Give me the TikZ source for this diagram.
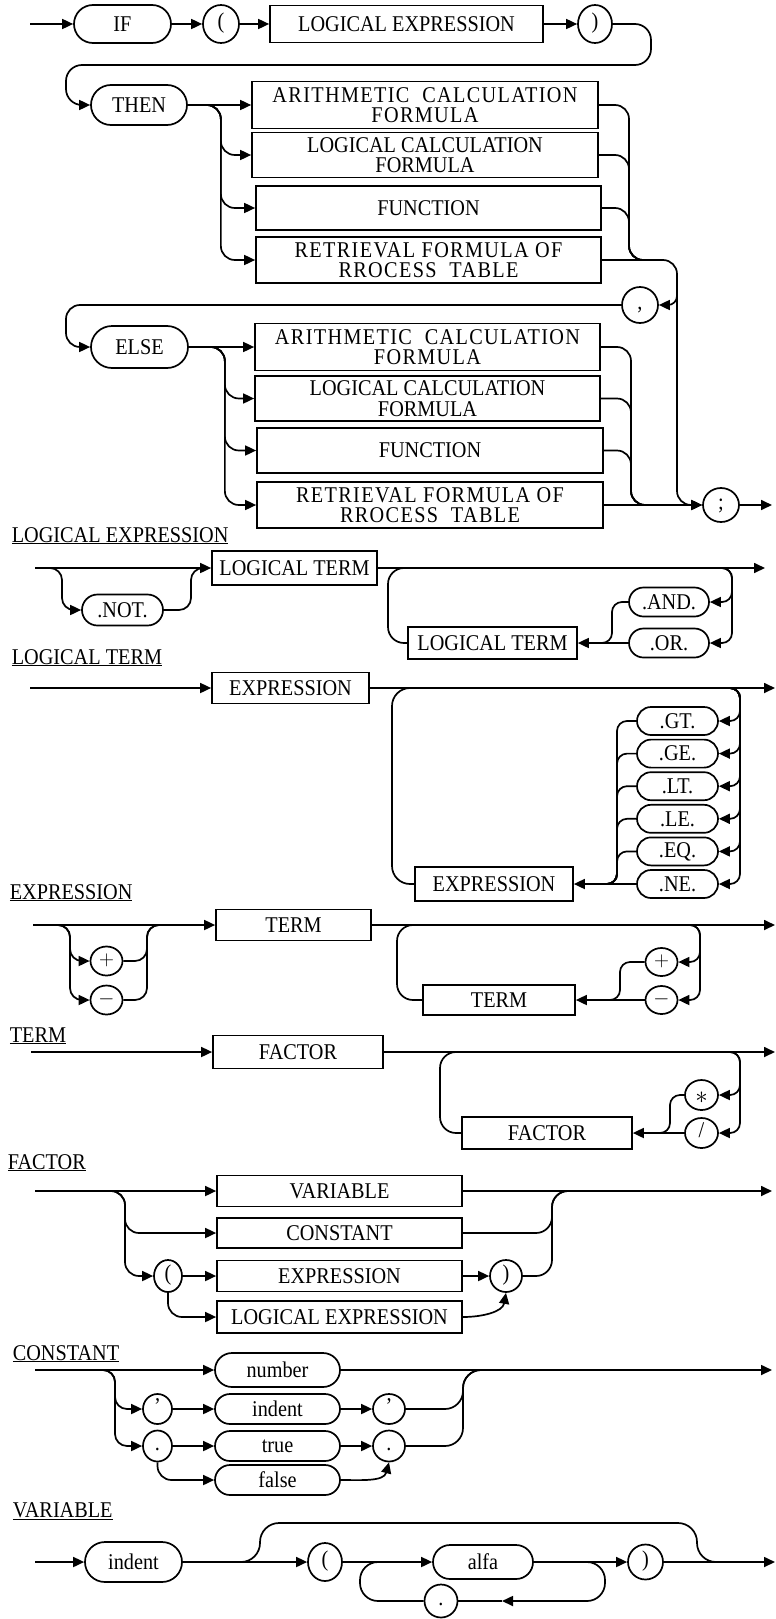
\documentclass[tikz,border=0pt]{standalone}
\usepackage{fontspec}
\setmainfont[FakeStretch=0.9]{Liberation Serif}
\newfontfamily\spacedfont[FakeStretch=0.9, LetterSpace=6]{Liberation Serif}
\usetikzlibrary{arrows.meta, shapes.misc, shapes.geometric, positioning}

\begin{document}
\begin{tikzpicture}[
		x=1pt, y=-1pt,
		>={Triangle[length=11pt,width=10pt]},
		line width=1.7pt,
		lbl/.style={font=\fontsize{22.5}{20.5}\selectfont},
		sz/.style 2 args={minimum width=#1pt, minimum height=#2pt},
		block/.style={draw, rectangle, align=center, inner sep=0pt, lbl},
		wideblock/.style={block, font=\spacedfont\fontsize{22.5}{20.5}\selectfont},
		oval/.style={draw, rounded rectangle, inner sep=0pt, lbl},
		sym/.style={draw, ellipse, inner sep=0pt, text height=13pt, text depth=4pt, lbl},
		head/.style={anchor=base west, inner sep=0pt, lbl},
		arr/.style={->},
		rc/.style={rounded corners=#1}, rc/.default=14pt,
	]
		\useasboundingbox (0,0) rectangle (776,1619);

		% IF ( logical expression )
		\coordinate (in0) at (30,24);
		\node[oval, sz={97}{38}] (if) at (122.5,24) {IF};
		\node[sym, sz={36}{38}] (lp1) at (221,24) {(};
		\node[block, sz={273}{37}] (lexp1) at (406.5,24) {LOGICAL EXPRESSION};
		\node[sym, sz={34}{38}] (rp1) at (595,24) {)};

		% THEN branch
		\node[oval, sz={96}{40}] (then) at (139,105) {THEN};
		\node[wideblock, sz={346}{47}] (arith1) at (425,105) {ARITHMETIC\ \ CALCULATION\\FORMULA};
		\node[block, sz={346}{45}] (logic1) at (425,155) {LOGICAL CALCULATION\\FORMULA};
		\node[block, sz={345}{44}] (func1) at (428.5,208) {FUNCTION};
		\node[wideblock, sz={345}{46}] (retr1) at (428.5,260) {RETRIEVAL FORMULA OF\\RROCESS\ \ TABLE};

		% ELSE branch
		\node[sym, sz={36}{36}] (comma) at (640,305) {,};
		\node[oval, sz={97}{42}] (else) at (139.5,347) {ELSE};
		\node[wideblock, sz={345}{47}] (arith2) at (427.5,347) {ARITHMETIC\ \ CALCULATION\\FORMULA};
		\node[block, sz={345}{45}] (logic2) at (427.5,398.5) {LOGICAL CALCULATION\\FORMULA};
		\node[block, sz={346}{45}] (func2) at (430,450.5) {FUNCTION};
		\node[wideblock, sz={346}{46}] (retr2) at (430,505) {RETRIEVAL FORMULA OF\\RROCESS\ \ TABLE};
		\node[sym, sz={36}{34}] (semi) at (721,505) {;};
		\coordinate (cj) at (677,283);
		\coordinate (out0) at (772,505);

		\draw[arr] (in0) -- (if);
		\draw[arr] (if) -- (lp1);
		\draw[arr] (lp1) -- (lexp1);
		\draw[arr] (lexp1) -- (rp1);
		\draw[arr, rc=16pt] (rp1) -- (651,24) -- (651,65) -- (66,65) |- (then.west);
		\draw[arr] (then) -- (arith1);
		\foreach \b in {logic1, func1, retr1}
			\draw[arr, rc] (then.east) -- ++(33,0) |- (\b.west);
		\foreach \b in {arith1, logic1, func1}
			\draw[rc] (\b.east) -| (629,260) -- (660,260);
		\draw[arr, rc] (retr1.east) -| (677,505) -- (semi.west);
		\draw[arr, rc=9pt] (cj) |- (comma.east);
		\draw[arr, rc] (comma) -- (66,305) |- (else.west);
		\draw[arr] (else) -- (arith2);
		\foreach \b in {logic2, func2, retr2}
			\draw[arr, rc] (else.east) -- ++(36,0) |- (\b.west);
		\foreach \b in {arith2, logic2, func2}
			\draw[rc] (\b.east) -| (631,505) -- (660,505);
		\draw[arr] (retr2) -- (semi);
		\draw[arr] (semi) -- (out0);

		% LOGICAL EXPRESSION
		\node[head] (h1) at (11,542) {\underline{LOGICAL EXPRESSION}};
		\coordinate (in1) at (35,568);
		\node[block, sz={165}{34}] (lt1) at (294.5,568) {LOGICAL TERM};
		\node[oval, sz={81}{31}] (not) at (122.5,610) {.NOT.};
		\node[oval, sz={80}{29}] (and) at (669,602) {.AND.};
		\node[oval, sz={80}{29}] (or) at (669,643) {.OR.};
		\node[block, sz={169}{32}] (lt2) at (492.5,643) {LOGICAL TERM};
		\coordinate (out1) at (765,568);

		\draw[arr] (in1) -- (lt1);
		\draw[arr, rc=12pt] (50,568) -- (62,568) |- (not.west);
		\draw[rc=12pt] (not.east) -| (191,568) -- (205,568);
		\draw[arr] (lt1) -- (out1);
		\draw[arr, rc=10pt] (716,568) -| (732,602) -- (and.east);
		\draw[arr, rc=10pt] (716,568) -| (732,643) -- (or.east);
		\draw[rc=10pt] (and.west) -| (612,643) -- (592,643);
		\draw[arr] (or) -- (lt2);
		\draw[rc=16pt] (lt2.west) -| (388,568) -- (420,568);

		% LOGICAL TERM
		\node[head] (h2) at (11,664) {\underline{LOGICAL TERM}};
		\coordinate (in2) at (30,688);
		\node[block, sz={157}{31}] (exp1) at (290.5,688) {EXPRESSION};
		\node[block, sz={158}{34}] (exp2) at (494,884) {EXPRESSION};
		\coordinate (out2) at (775,688);

		\draw[arr] (in2) -- (exp1);
		\draw[arr] (exp1) -- (out2);
		\foreach \o [count=\i from 0] in {GT,GE,LT,LE,EQ,NE} {
			\pgfmathsetmacro\yy{721+32.6*\i}
			\node[oval, sz={81}{28}] (op\i) at (677.5,\yy) {.\o.};
			\draw[arr, rc=10pt] (725,688) -| (740,\yy) -- (op\i.east);
			\ifnum\i<5
				\draw[rc=10pt] (op\i.west) -| (617,884) -- (598,884);
			\else
				\draw[arr] (op\i) -- (exp2);
			\fi
		}
		\draw[rc=18pt] (exp2.west) -| (392,688) -- (420,688);

		% EXPRESSION
		\node[head] (h3) at (9,899) {\underline{EXPRESSION}};
		\coordinate (in3) at (33,925);
		\node[block, sz={155}{31}] (term1) at (293.5,925) {TERM};
		\node[sym, sz={32}{29}] (pos1) at (106.5,961) {$+$};
		\node[sym, sz={32}{29}] (neg1) at (106.5,1000) {$-$};
		\node[sym, sz={32}{28}] (pos2) at (661.5,962) {$+$};
		\node[sym, sz={32}{28}] (neg2) at (661.5,1000) {$-$};
		\node[block, sz={152}{30}] (term2) at (499,1000) {TERM};
		\coordinate (out3) at (775,925);

		\draw[arr] (in3) -- (term1);
		\draw[arr, rc=12pt] (50,925) -- (70,925) |- (pos1.west);
		\draw[arr, rc=12pt] (50,925) -- (70,925) |- (neg1.west);
		\draw[rc=12pt] (pos1.east) -| (147,925) -- (167,925);
		\draw[rc=12pt] (neg1.east) -| (147,925) -- (167,925);
		\draw[arr] (term1) -- (out3);
		\draw[arr, rc=10pt] (685,925) -| (700,962) -- (pos2.east);
		\draw[arr, rc=10pt] (685,925) -| (700,1000) -- (neg2.east);
		\draw[rc=10pt] (pos2.west) -| (620,1000) -- (600,1000);
		\draw[arr] (neg2) -- (term2);
		\draw[rc=16pt] (term2.west) -| (397,925) -- (420,925);

		% TERM
		\node[head] (h4) at (9,1042) {\underline{TERM}};
		\coordinate (in4) at (31,1052);
		\node[block, sz={170}{33}] (fac1) at (298,1052) {FACTOR};
		\node[sym, sz={33}{30}, text height=17pt, text depth=0pt] (mul) at (701.5,1095) {\fontsize{34}{34}\selectfont$\ast$};
		\node[sym, sz={33}{30}] (div) at (701.5,1133) {/};
		\node[block, sz={170}{32}] (fac2) at (547,1133) {FACTOR};
		\coordinate (out4) at (775,1052);

		\draw[arr] (in4) -- (fac1);
		\draw[arr] (fac1) -- (out4);
		\draw[arr, rc=10pt] (725,1052) -| (740,1095) -- (mul.east);
		\draw[arr, rc=10pt] (725,1052) -| (740,1133) -- (div.east);
		\draw[rc=10pt] (mul.west) -| (670,1133) -- (650,1133);
		\draw[arr] (div) -- (fac2);
		\draw[rc=16pt] (fac2.west) -| (440,1052) -- (467,1052);

		% FACTOR
		\node[head] (h5) at (7,1169) {\underline{FACTOR}};
		\coordinate (in5) at (35,1191);
		\node[block, sz={245}{31}] (var1) at (339.5,1191) {VARIABLE};
		\node[block, sz={245}{30}] (con1) at (339.5,1233) {CONSTANT};
		\node[sym, sz={28}{32}] (lp3) at (168,1276) {(};
		\node[block, sz={245}{31}] (exp3) at (339.5,1276) {EXPRESSION};
		\node[block, sz={245}{32}] (lexp3) at (339.5,1317) {LOGICAL EXPRESSION};
		\node[sym, sz={32}{32}] (rp3) at (506,1276) {)};
		\coordinate (out5) at (772,1191);

		\draw[arr] (in5) -- (var1);
		\draw[arr] (var1) -- (out5);
		\draw[arr, rc] (100,1191) -- (125,1191) |- (con1.west);
		\draw[arr, rc] (100,1191) -- (125,1191) |- (lp3.west);
		\draw[arr] (lp3) -- (exp3);
		\draw[arr, rc] (lp3.south) |- (lexp3.west);
		\draw[arr] (exp3) -- (rp3);
		\draw[arr] (lexp3.east) to[out=0, in=-100] (rp3.south);
		\draw[rc=16pt] (rp3.east) -| (552,1191) -- (577,1191);
		\draw[rc=16pt] (con1.east) -| (552,1191) -- (577,1191);

		% CONSTANT
		\node[head] (h6) at (12,1360) {\underline{CONSTANT}};
		\coordinate (in6) at (35,1370);
		\node[oval, sz={125}{34}] (num) at (277.5,1370) {number};
		\node[sym, sz={29}{30}] (qo) at (157.5,1409) {'};
		\node[oval, sz={125}{30}] (ind1) at (277.5,1409) {indent};
		\node[sym, sz={32}{30}] (qc) at (389,1409) {'};
		\node[sym, sz={29}{31}] (dto) at (157.5,1446) {.};
		\node[oval, sz={125}{30}] (tru) at (277.5,1446) {true};
		\node[sym, sz={32}{31}] (dtc) at (389,1446) {.};
		\node[oval, sz={125}{30}] (fal) at (277.5,1480) {false};
		\coordinate (out6) at (772,1370);

		\draw[arr] (in6) -- (num);
		\draw[arr] (num) -- (out6);
		\draw[arr, rc=12pt] (87,1370) -- (115,1370) |- (qo.west);
		\draw[arr, rc=12pt] (87,1370) -- (115,1370) |- (dto.west);
		\draw[arr] (qo) -- (ind1);
		\draw[arr] (ind1) -- (qc);
		\draw[arr] (dto) -- (tru);
		\draw[arr] (tru) -- (dtc);
		\draw[arr, rc] (dto.south) |- (fal.west);
		\draw[arr] (fal.east) to[out=0, in=-105] (dtc.south);
		\draw[rc=18pt] (qc.east) -| (463,1370) -- (485,1370);
		\draw[rc=18pt] (dtc.east) -| (463,1370) -- (485,1370);

		% VARIABLE
		\node[head] (h7) at (12,1517) {\underline{VARIABLE}};
		\coordinate (in7) at (35,1562);
		\node[oval, sz={97}{40}] (ind2) at (133.5,1562) {indent};
		\node[sym, sz={34}{38}] (lp4) at (325,1562) {(};
		\node[oval, sz={100}{34}] (alfa) at (483,1562) {alfa};
		\node[sym, sz={35}{35}] (rp4) at (645.5,1562) {)};
		\node[sym, sz={33}{33}] (dot) at (441,1601) {.};
		\coordinate (va) at (502,1601);
		\coordinate (out7) at (775,1562);

		\draw[arr] (in7) -- (ind2);
		\draw[arr] (ind2) -- (lp4);
		\draw[arr] (lp4) -- (alfa);
		\draw[arr] (alfa) -- (rp4);
		\draw[arr] (rp4) -- (out7);
		\draw[rc=19pt] (ind2.east) -- (260,1562) |- (697,1523) |- (740,1562);
		\draw[arr, rc=18pt] (alfa.east) -- (605,1562) |- (va);
		\draw (va) -- (dot);
		\draw[rc=18pt] (dot.west) -| (360,1562) -- (385,1562);
	\end{tikzpicture}
\end{document}
